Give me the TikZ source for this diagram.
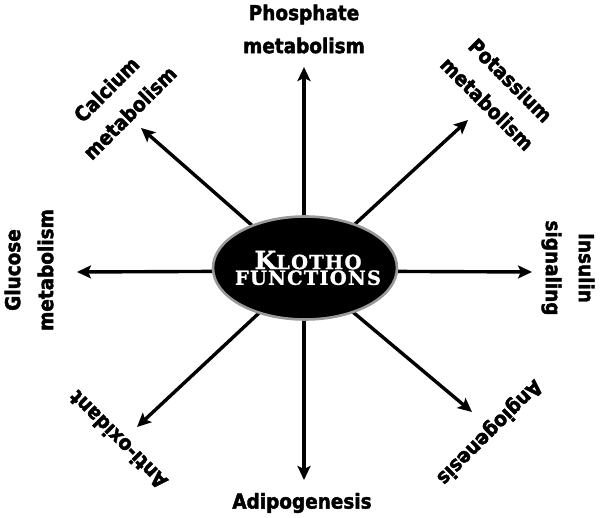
\documentclass[tikz,border=0pt]{standalone}
\usepackage{fontspec}
\usetikzlibrary{arrows.meta,shapes.geometric}
\newfontfamily\labfont[FakeBold=2]{DejaVu Sans Condensed Bold}
\newfontfamily\ctrfont[LetterSpace=6,FakeBold=1.2]{DejaVu Serif Bold}
\begin{document}
\begin{tikzpicture}[x=1pt,y=-1pt,
  arr/.style={line width=3.4pt,-{Stealth[length=14pt,width=13pt,inset=3pt]}},
  lab/.style={font=\labfont\fontsize{20.5}{33}\selectfont,align=center,inner sep=0pt}]
\useasboundingbox[fill=white] (0,0) rectangle (600,518);
\coordinate (c) at (304,271);
\coordinate (tN) at (304,67);
\coordinate (tS) at (304,480);
\coordinate (tW) at (77,272);
\coordinate (tE) at (532,272);
\coordinate (tNW) at (141,128);
\coordinate (tNE) at (468,120);
\coordinate (tSW) at (137,427);
\coordinate (tSE) at (472,412);
\foreach \t in {tN,tS,tW,tE,tNW,tNE,tSW,tSE}{\draw[arr] (c) -- (\t);}
\node[ellipse,draw=black!40,line width=2.6pt,fill=black,minimum width=184pt,minimum height=103pt,inner sep=0pt] (k) at (305,268) {};
\node[text=white,align=center,inner sep=0pt] (kt) at (308,268)
  {\ctrfont\fontsize{25}{28}\selectfont K\fontsize{19.5}{28}\selectfont LOTHO\\\ctrfont\fontsize{19.5}{28}\selectfont FUNCTIONS};
\node[lab] (phos) at (304,29) {Phosphate\\metabolism};
\node[lab,rotate=45] (calc) at (118,101) {Calcium\\metabolism};
\node[lab,rotate=-45] (pota) at (499,92) {Potassium\\metabolism};
\node[lab,rotate=90] (gluc) at (29,270) {Glucose\\metabolism};
\node[lab,rotate=-90] (insu) at (568,268) {Insulin\\signaling};
\node[lab,rotate=135] (anti) at (118,440) {Anti-oxidant};
\node[lab,rotate=225] (angi) at (489,432) {Angiogenesis};
\node[lab] (adip) at (302,503) {Adipogenesis};
\end{tikzpicture}
\end{document}
